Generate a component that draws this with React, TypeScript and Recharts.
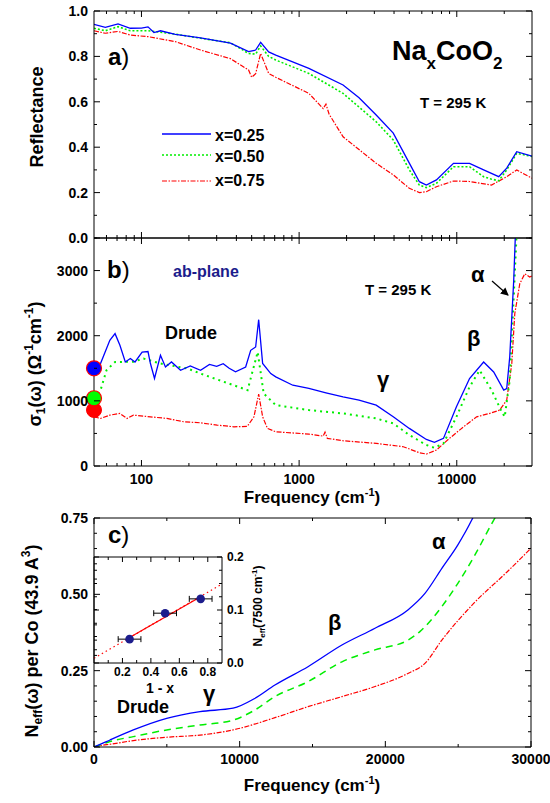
import React from 'react';
import { LineChart, Line, XAxis, YAxis, ReferenceDot, ComposedChart, Scatter, ErrorBar } from 'recharts';

const FONT = "'Liberation Sans', Arial, Helvetica, sans-serif";
const BLUE = '#0000ff';
const GREEN = '#00ee00';
const RED = '#ff0000';
const NAVY = '#1c1c8c';

// ---------- Panel a: reflectance ----------
const reflBlueF = [50, 59, 71, 85, 100, 110, 120, 132, 164, 237, 367, 478, 530, 570, 641, 711, 1153, 1900, 2400, 3082, 3955, 5000, 5790, 6414, 7430, 9530, 12050, 14800, 18450, 20740, 24000, 30000];
const reflBlueR = [0.941, 0.928, 0.943, 0.924, 0.925, 0.93, 0.905, 0.913, 0.897, 0.882, 0.858, 0.821, 0.828, 0.862, 0.82, 0.806, 0.747, 0.674, 0.618, 0.542, 0.462, 0.33, 0.248, 0.233, 0.256, 0.329, 0.329, 0.3, 0.27, 0.308, 0.38, 0.361];
const reflGreenF = [50, 59, 71, 85, 110, 164, 237, 367, 478, 530, 570, 641, 711, 1153, 1900, 3082, 3955, 5000, 5790, 6414, 7430, 9530, 12050, 14800, 16500, 18450, 20740, 24000, 30000];
const reflGreenR = [0.924, 0.913, 0.931, 0.913, 0.913, 0.898, 0.88, 0.86, 0.813, 0.81, 0.846, 0.8, 0.784, 0.725, 0.637, 0.512, 0.432, 0.3, 0.233, 0.222, 0.241, 0.314, 0.314, 0.27, 0.26, 0.252, 0.3, 0.373, 0.359];
const reflRedF = [50, 59, 71, 85, 110, 164, 237, 367, 478, 500, 530, 570, 641, 711, 1153, 1420, 1480, 1550, 1900, 3082, 3955, 5000, 5790, 6414, 7430, 9530, 12050, 16600, 20740, 24000, 30000];
const reflRedR = [0.913, 0.902, 0.91, 0.894, 0.887, 0.865, 0.828, 0.79, 0.74, 0.708, 0.724, 0.813, 0.725, 0.708, 0.637, 0.57, 0.59, 0.545, 0.446, 0.329, 0.278, 0.219, 0.2, 0.204, 0.226, 0.251, 0.249, 0.233, 0.27, 0.3, 0.263];

// ---------- Panel b: optical conductivity ----------
const sigBlueF = [50, 55, 63, 68, 73, 79, 85, 91, 101, 110, 114, 121, 132, 142, 155, 177, 204, 237, 270, 300, 330, 360, 395, 458, 493, 530, 554, 587, 661, 711, 912, 1153, 1480, 1900, 2400, 3082, 3955, 5000, 6414, 7215, 8235, 9950, 12050, 14800, 17140, 19850, 20740, 21670, 22970, 23660];
const sigBlueS = [1496, 1573, 1930, 2032, 1853, 1597, 1649, 1597, 1750, 1757, 1573, 1343, 1700, 1520, 1597, 1470, 1536, 1470, 1560, 1530, 1570, 1500, 1445, 1520, 1776, 1827, 2246, 1573, 1419, 1368, 1240, 1190, 1123, 1062, 1011, 934, 755, 577, 408, 363, 424, 908, 1343, 1597, 1444, 1164, 1190, 1674, 2848, 3700];
const sigGreenF = [50, 55, 60, 68, 89, 103, 132, 196, 237, 384, 471, 546, 596, 711, 1153, 1900, 3082, 3955, 5000, 6414, 7215, 8235, 9950, 12050, 13960, 16630, 19270, 20140, 21670, 22970, 24000];
const sigGreenS = [1040, 1164, 1470, 1597, 1600, 1649, 1573, 1496, 1419, 1240, 1164, 1750, 1113, 934, 858, 807, 730, 654, 475, 322, 280, 347, 755, 1214, 1470, 1164, 832, 755, 1317, 2593, 3600];
const sigRedF = [50, 55, 63, 73, 81, 89, 114, 145, 185, 237, 302, 386, 469, 517, 554, 587, 630, 711, 1153, 1420, 1460, 1510, 1900, 3082, 4580, 5790, 6414, 7430, 8990, 11040, 13360, 16170, 18710, 20740, 22330, 23330, 25100, 27000, 29000, 30000];
const sigRedS = [755, 730, 781, 807, 730, 781, 755, 730, 679, 663, 628, 602, 608, 755, 1103, 755, 577, 525, 490, 459, 520, 424, 388, 347, 296, 204, 184, 245, 424, 602, 755, 807, 858, 1011, 1573, 2338, 2798, 2951, 2900, 2920];
const dcSigma = [860, 1040, 1500]; // red, green, blue circles at 50 cm-1

// ---------- Panel c: effective number of carriers ----------
const neffBlueF = [0, 500, 1100, 2700, 4990, 7275, 9550, 11000, 12420, 14690, 17020, 19290, 21550, 22720, 23880, 24980, 25940, 26300];
const neffBlueN = [0, 0.01, 0.023, 0.056, 0.094, 0.116, 0.127, 0.158, 0.203, 0.263, 0.334, 0.389, 0.449, 0.503, 0.585, 0.662, 0.744, 0.78];
const neffGreenF = [0, 500, 1100, 2700, 4990, 7275, 9550, 11000, 12420, 14690, 17020, 19290, 21550, 22370, 23880, 24980, 26080, 27450, 28000];
const neffGreenN = [0, 0.008, 0.018, 0.034, 0.056, 0.072, 0.088, 0.12, 0.165, 0.214, 0.279, 0.318, 0.35, 0.378, 0.46, 0.536, 0.623, 0.744, 0.79];
const neffRedF = [0, 500, 1100, 2700, 4990, 7275, 9550, 12420, 14690, 17020, 19290, 21550, 22720, 23880, 26080, 28370, 30000];
const neffRedN = [0, 0.005, 0.009, 0.021, 0.032, 0.039, 0.056, 0.096, 0.132, 0.165, 0.198, 0.241, 0.274, 0.35, 0.471, 0.574, 0.651];

// ---------- Inset ----------
const insetX = [0.25, 0.5, 0.75];
const insetY = [0.045, 0.094, 0.121];
const insetErr = [0.08, 0.08, 0.08];
const fitX = [0, 0.9];
const fitY = [0.009, 0.149];
const fitSolidX = [0.25, 0.75];
const fitSolidY = [0.048, 0.125];

// ---------- Ticks ----------
const logTicks = [60, 70, 80, 90, 100, 200, 300, 400, 500, 600, 700, 800, 900, 1000, 2000, 3000, 4000, 5000, 6000, 7000, 8000, 9000, 10000, 20000];
const logMajors = [100, 1000, 10000];
const reflTicks = [0, 0.1, 0.2, 0.3, 0.4, 0.5, 0.6, 0.7, 0.8, 0.9, 1.0];
const reflMajors = [0, 0.2, 0.4, 0.6, 0.8, 1.0];
const sigTicks = [0, 500, 1000, 1500, 2000, 2500, 3000, 3500];
const sigMajors = [0, 1000, 2000, 3000];
const linTicks = [0, 5000, 10000, 15000, 20000, 25000, 30000];
const linMajors = [0, 10000, 20000, 30000];
const neffTicks = [0, 0.05, 0.1, 0.15, 0.2, 0.25, 0.3, 0.35, 0.4, 0.45, 0.5, 0.55, 0.6, 0.65, 0.7, 0.75];
const neffMajors = [0, 0.25, 0.5, 0.75];
const inXTicks = [0.1, 0.2, 0.3, 0.4, 0.5, 0.6, 0.7, 0.8];
const inXMajors = [0.2, 0.4, 0.6, 0.8];
const inYTicks = [0, 0.025, 0.05, 0.075, 0.1, 0.125, 0.15, 0.175, 0.2];
const inYMajors = [0, 0.1, 0.2];

const zip = (xs: number[], ys: number[], kx = 'f', ky = 'v') => xs.map((x, i) => ({ [kx]: x, [ky]: ys[i] }));

type TickOpts = { majorLen?: number; minorLen?: number; fontSize?: number; gap?: number };

function mkTick(side: 'bottom' | 'top' | 'left' | 'right', pos: number, majors: number[], fmt: ((v: number) => string) | null, o: TickOpts = {}) {
  const majorLen = o.majorLen ?? 6;
  const minorLen = o.minorLen ?? 3;
  const fs = o.fontSize ?? 14;
  const gap = o.gap ?? 6;
  return (props: any) => {
    const { x, y, payload } = props;
    const v = Number(payload.value);
    const isMajor = majors.some((m) => Math.abs(m - v) <= Math.abs(m) * 1e-6 + 1e-9);
    const len = isMajor ? majorLen : minorLen;
    const txt = isMajor && fmt ? fmt(v) : null;
    const tstyle = { fontFamily: FONT, fontWeight: 'bold' as const, fontSize: fs, fill: '#000' };
    if (side === 'bottom') {
      return (
        <g>
          <line x1={x} y1={pos} x2={x} y2={pos - len} stroke="#000" strokeWidth={1} />
          {txt !== null && <text x={x} y={pos + gap} textAnchor="middle" style={tstyle}>{txt}</text>}
        </g>
      );
    }
    if (side === 'top') {
      return <line x1={x} y1={pos} x2={x} y2={pos + len} stroke="#000" strokeWidth={1} />;
    }
    if (side === 'left') {
      return (
        <g>
          <line x1={pos} y1={y} x2={pos + len} y2={y} stroke="#000" strokeWidth={1} />
          {txt !== null && <text x={pos - gap} y={y + fs * 0.36} textAnchor="end" style={tstyle}>{txt}</text>}
        </g>
      );
    }
    return (
      <g>
        <line x1={pos} y1={y} x2={pos - len} y2={y} stroke="#000" strokeWidth={1} />
        {txt !== null && <text x={pos + gap} y={y + fs * 0.36} textAnchor="start" style={tstyle}>{txt}</text>}
      </g>
    );
  };
}

const f1 = (v: number) => v.toFixed(1);
const f2 = (v: number) => v.toFixed(2);
const fi = (v: number) => String(Math.round(v));

const L = 94;
const R = 532;
const A_TOP = 11;
const A_BOT = 238;
const B_BOT = 466;
const C_TOP = 518;
const C_BOT = 747;
const C_R = 531;
const I_TOP = 557;
const I_BOT = 663;
const I_R = 222;

const W = 550;
const H = 803;
const AXW = 1; // thickness reserved for each axis
const layer: React.CSSProperties = { position: 'absolute', left: 0, top: 0 };
const axLine = { stroke: '#000', strokeWidth: 1 };

const marg = (top: number, bottom: number, left: number, right: number) => ({
  top: top - AXW,
  bottom: H - bottom - AXW,
  left: left - AXW,
  right: W - right - AXW,
});

function PanelA() {
  return (
    <div style={layer}>
      <LineChart width={W} height={H} margin={marg(A_TOP, A_BOT, L, R)}>
        <XAxis dataKey="f" type="number" scale="log" domain={[50, 30000]} allowDataOverflow ticks={logTicks} interval={0} height={AXW} tickLine={false} axisLine={axLine} tick={mkTick('bottom', A_BOT, logMajors, null)} />
        <XAxis xAxisId="top" orientation="top" dataKey="f" type="number" scale="log" domain={[50, 30000]} allowDataOverflow ticks={logTicks} interval={0} height={AXW} tickLine={false} axisLine={axLine} tick={mkTick('top', A_TOP, logMajors, null)} />
        <YAxis type="number" domain={[0, 1]} allowDataOverflow ticks={reflTicks} interval={0} width={AXW} tickLine={false} axisLine={axLine} tick={mkTick('left', L, reflMajors, f1)} />
        <YAxis yAxisId="right" orientation="right" type="number" domain={[0, 1]} allowDataOverflow ticks={reflTicks} interval={0} width={AXW} tickLine={false} axisLine={axLine} tick={mkTick('right', R, reflMajors, null)} />
        <Line data={zip(reflRedF, reflRedR)} dataKey="v" stroke={RED} strokeWidth={1.2} strokeDasharray="5 1.5 1.5 1.5" dot={false} isAnimationActive={false} />
        <Line data={zip(reflGreenF, reflGreenR)} dataKey="v" stroke={GREEN} strokeWidth={1.6} strokeDasharray="2 2" dot={false} isAnimationActive={false} />
        <Line data={zip(reflBlueF, reflBlueR)} dataKey="v" stroke={BLUE} strokeWidth={1.3} dot={false} isAnimationActive={false} />
      </LineChart>
    </div>
  );
}

function PanelB() {
  return (
    <div style={layer}>
      <LineChart width={W} height={H} margin={marg(A_BOT, B_BOT, L, R)}>
        <XAxis dataKey="f" type="number" scale="log" domain={[50, 30000]} allowDataOverflow ticks={logTicks} interval={0} height={AXW} tickLine={false} axisLine={axLine} tick={mkTick('bottom', B_BOT, logMajors, fi, { gap: 18 })} />
        <XAxis xAxisId="top" orientation="top" dataKey="f" type="number" scale="log" domain={[50, 30000]} allowDataOverflow ticks={logTicks} interval={0} height={AXW} tickLine={false} axisLine={axLine} tick={mkTick('top', A_BOT, logMajors, null)} />
        <YAxis type="number" domain={[0, 3500]} allowDataOverflow ticks={sigTicks} interval={0} width={AXW} tickLine={false} axisLine={axLine} tick={mkTick('left', L, sigMajors, fi)} />
        <YAxis yAxisId="right" orientation="right" type="number" domain={[0, 3500]} allowDataOverflow ticks={sigTicks} interval={0} width={AXW} tickLine={false} axisLine={axLine} tick={mkTick('right', R, sigMajors, null)} />
        <Line data={zip(sigRedF, sigRedS)} dataKey="v" stroke={RED} strokeWidth={1.2} strokeDasharray="5 1.5 1.5 1.5" dot={false} isAnimationActive={false} />
        <Line data={zip(sigGreenF, sigGreenS)} dataKey="v" stroke={GREEN} strokeWidth={2} strokeDasharray="2 4" dot={false} isAnimationActive={false} />
        <Line data={zip(sigBlueF, sigBlueS)} dataKey="v" stroke={BLUE} strokeWidth={1.3} dot={false} isAnimationActive={false} />
        <ReferenceDot x={50} y={dcSigma[0]} r={7.5} fill={RED} stroke={RED} strokeWidth={1} ifOverflow="visible" />
        <ReferenceDot x={50} y={dcSigma[1]} r={7.5} fill="#00ff00" stroke={RED} strokeWidth={1.2} ifOverflow="visible" />
        <ReferenceDot x={50} y={dcSigma[2]} r={7.5} fill={BLUE} stroke={RED} strokeWidth={1.2} ifOverflow="visible" />
      </LineChart>
    </div>
  );
}

function PanelC() {
  return (
    <div style={layer}>
      <LineChart width={W} height={H} margin={marg(C_TOP, C_BOT, L, C_R)}>
        <XAxis dataKey="f" type="number" domain={[0, 30000]} allowDataOverflow ticks={linTicks} interval={0} height={AXW} tickLine={false} axisLine={axLine} tick={mkTick('bottom', C_BOT, linMajors, fi, { gap: 17 })} />
        <XAxis xAxisId="top" orientation="top" dataKey="f" type="number" domain={[0, 30000]} allowDataOverflow ticks={linTicks} interval={0} height={AXW} tickLine={false} axisLine={axLine} tick={mkTick('top', C_TOP, linMajors, null)} />
        <YAxis type="number" domain={[0, 0.75]} allowDataOverflow ticks={neffTicks} interval={0} width={AXW} tickLine={false} axisLine={axLine} tick={mkTick('left', L, neffMajors, f2)} />
        <YAxis yAxisId="right" orientation="right" type="number" domain={[0, 0.75]} allowDataOverflow ticks={neffTicks} interval={0} width={AXW} tickLine={false} axisLine={axLine} tick={mkTick('right', C_R, neffMajors, null)} />
        <Line type="monotone" data={zip(neffRedF, neffRedN)} dataKey="v" stroke={RED} strokeWidth={1.2} strokeDasharray="5 1.5 1.5 1.5" dot={false} isAnimationActive={false} />
        <Line type="monotone" data={zip(neffGreenF, neffGreenN)} dataKey="v" stroke={GREEN} strokeWidth={1.5} strokeDasharray="7 5" dot={false} isAnimationActive={false} />
        <Line type="monotone" data={zip(neffBlueF, neffBlueN)} dataKey="v" stroke={BLUE} strokeWidth={1.3} dot={false} isAnimationActive={false} />
      </LineChart>
    </div>
  );
}

function Inset() {
  const pts = insetX.map((x, i) => ({ x, y: insetY[i], err: insetErr[i] }));
  return (
    <div style={layer}>
      <ComposedChart width={W} height={H} margin={marg(I_TOP, I_BOT, L, I_R)}>
        <XAxis dataKey="x" type="number" domain={[0, 0.9]} allowDataOverflow ticks={inXTicks} interval={0} height={AXW} tickLine={false} axisLine={axLine} tick={mkTick('bottom', I_BOT, inXMajors, f1, { fontSize: 12, gap: 13, majorLen: 5, minorLen: 3 })} />
        <XAxis xAxisId="top" orientation="top" dataKey="x" type="number" domain={[0, 0.9]} allowDataOverflow ticks={inXTicks} interval={0} height={AXW} tickLine={false} axisLine={axLine} tick={mkTick('top', I_TOP, inXMajors, null, { majorLen: 5 })} />
        <YAxis yAxisId="left" type="number" domain={[0, 0.2]} allowDataOverflow ticks={inYTicks} interval={0} width={AXW} tickLine={false} axisLine={axLine} tick={mkTick('left', L, inYMajors, null, { majorLen: 5 })} />
        <YAxis orientation="right" type="number" domain={[0, 0.2]} allowDataOverflow ticks={inYTicks} interval={0} width={AXW} tickLine={false} axisLine={axLine} tick={mkTick('right', I_R, inYMajors, f1, { fontSize: 12, gap: 5, majorLen: 5 })} />
        <Line data={zip(fitX, fitY, 'x', 'y')} dataKey="y" stroke={RED} strokeWidth={1.2} strokeDasharray="1.5 3" dot={false} isAnimationActive={false} />
        <Line data={zip(fitSolidX, fitSolidY, 'x', 'y')} dataKey="y" stroke={RED} strokeWidth={1.2} dot={false} isAnimationActive={false} />
        <Scatter data={pts} dataKey="y" isAnimationActive={false} shape={(p: any) => <circle cx={p.cx} cy={p.cy} r={4.3} fill={NAVY} />}>
          <ErrorBar dataKey="err" direction="x" width={3} stroke="#000" strokeWidth={1} />
        </Scatter>
      </ComposedChart>
    </div>
  );
}

const T: React.CSSProperties = { fontFamily: FONT, fontWeight: 'bold', fill: '#000' };

function Overlay() {
  return (
    <svg width={W} height={H} style={{ ...layer, pointerEvents: 'none' }}>
      <defs>
        <marker id="ah" markerWidth="8" markerHeight="8" refX="7" refY="4" orient="auto" markerUnits="userSpaceOnUse">
          <path d="M0,0 L8,4 L0,8 z" fill="#000" />
        </marker>
      </defs>
      {/* panel a */}
      <text x={108} y={65} style={{ ...T, fontSize: 24 }}>a<tspan fontWeight="normal">)</tspan></text>
      <text x={392} y={60} style={{ ...T, fontSize: 27 }}>
        Na<tspan fontSize={17} dy={9}>x</tspan><tspan dy={-9}>CoO</tspan><tspan fontSize={17} dy={9}>2</tspan>
      </text>
      <text x={420} y={108} style={{ ...T, fontSize: 15 }}>T = 295 K</text>
      <line x1={162} y1={134} x2={211} y2={134} stroke={BLUE} strokeWidth={1.5} />
      <line x1={162} y1={155} x2={211} y2={155} stroke={GREEN} strokeWidth={1.6} strokeDasharray="2 2" />
      <line x1={162} y1={181} x2={211} y2={181} stroke={RED} strokeWidth={1.2} strokeDasharray="5 1.5 1.5 1.5" />
      <text x={215} y={141} style={{ ...T, fontSize: 16 }}>x=0.25</text>
      <text x={215} y={162} style={{ ...T, fontSize: 16 }}>x=0.50</text>
      <text x={215} y={186} style={{ ...T, fontSize: 16 }}>x=0.75</text>
      <text transform="translate(43,117) rotate(-90)" textAnchor="middle" style={{ ...T, fontSize: 18 }}>Reflectance</text>

      {/* panel b */}
      <text x={107} y={278} style={{ ...T, fontSize: 24 }}>b<tspan fontWeight="normal">)</tspan></text>
      <text x={173} y={277} style={{ ...T, fontSize: 16, fill: NAVY }}>ab-plane</text>
      <text x={165} y={339} style={{ ...T, fontSize: 18 }}>Drude</text>
      <text x={365} y={295} style={{ ...T, fontSize: 15 }}>T = 295 K</text>
      <text x={471} y={282} style={{ ...T, fontSize: 22 }}>α</text>
      <text x={467} y={346} style={{ ...T, fontSize: 22 }}>β</text>
      <text x={377} y={387} style={{ ...T, fontSize: 22 }}>γ</text>
      <line x1={492} y1={281} x2={508} y2={295} stroke="#000" strokeWidth={1.2} markerEnd="url(#ah)" />
      <text x={312} y={503} textAnchor="middle" style={{ ...T, fontSize: 17 }}>
        Frequency (cm<tspan fontSize={11} dy={-7}>-1</tspan><tspan dy={7}>)</tspan>
      </text>
      <text transform="translate(41,364) rotate(-90)" textAnchor="middle" style={{ ...T, fontSize: 18 }}>
        σ<tspan fontSize={12} dy={4}>1</tspan><tspan dy={-4}>(ω) (Ω</tspan><tspan fontSize={12} dy={-8}>-1</tspan><tspan dy={8}>cm</tspan><tspan fontSize={12} dy={-8}>-1</tspan><tspan dy={8}>)</tspan>
      </text>

      {/* panel c */}
      <text x={108} y={543} style={{ ...T, fontSize: 24 }}>c<tspan fontWeight="normal">)</tspan></text>
      <text x={117} y={713} style={{ ...T, fontSize: 18 }}>Drude</text>
      <text x={203} y={701} style={{ ...T, fontSize: 22 }}>γ</text>
      <text x={328} y={630} style={{ ...T, fontSize: 22 }}>β</text>
      <text x={432} y={549} style={{ ...T, fontSize: 22 }}>α</text>
      <text x={312} y={791} textAnchor="middle" style={{ ...T, fontSize: 17 }}>
        Frequency (cm<tspan fontSize={11} dy={-7}>-1</tspan><tspan dy={7}>)</tspan>
      </text>
      <text transform="translate(38,641) rotate(-90)" textAnchor="middle" style={{ ...T, fontSize: 18 }}>
        N<tspan fontSize={12} dy={4}>eff</tspan><tspan dy={-4}>(ω) per Co (43.9 A</tspan><tspan fontSize={12} dy={-8}>3</tspan><tspan dy={8}>)</tspan>
      </text>
      {/* inset labels */}
      <text x={160} y={693} textAnchor="middle" style={{ ...T, fontSize: 14 }}>1 - x</text>
      <text transform="translate(262,606) rotate(-90)" textAnchor="middle" style={{ ...T, fontSize: 12 }}>
        N<tspan fontSize={8} dy={3}>eff</tspan><tspan dy={-3}>(7500 cm</tspan><tspan fontSize={8} dy={-5}>-1</tspan><tspan dy={5}>)</tspan>
      </text>
    </svg>
  );
}

export default function App() {
  return (
    <div style={{ position: 'absolute', left: 0, top: 0, width: W, height: H, background: '#fff', overflow: 'hidden' }}>
      <PanelA />
      <PanelB />
      <PanelC />
      <Inset />
      <Overlay />
    </div>
  );
}
